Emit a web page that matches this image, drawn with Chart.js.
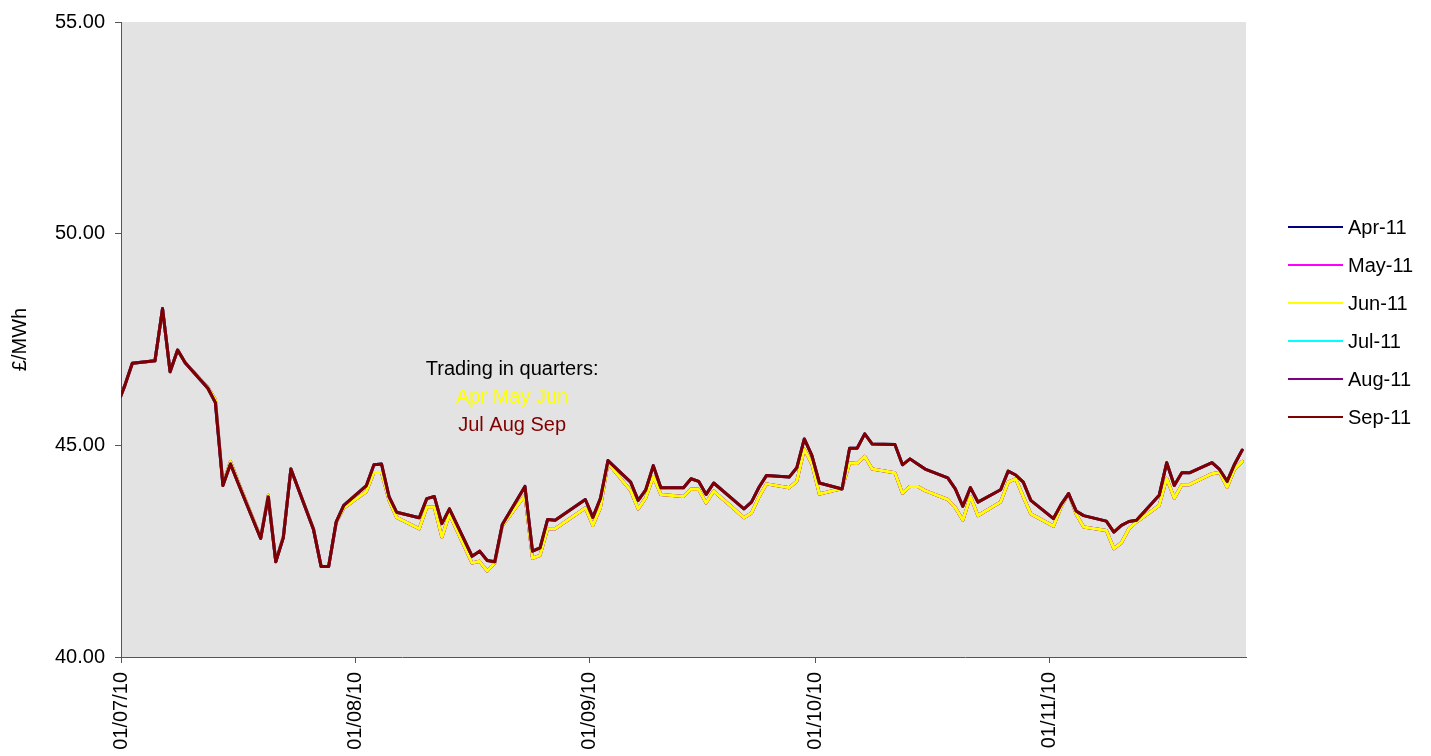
<!DOCTYPE html>
<html>
<head>
<meta charset="utf-8">
<script src="https://cdn.jsdelivr.net/npm/chart.js@4.4.1/dist/chart.umd.min.js"></script>
<style>
  html, body { margin: 0; padding: 0; background: #fff; }
  #wrap { width: 1431px; height: 756px; }
</style>
</head>
<body>
<div id="wrap"><canvas id="priceChart"></canvas></div>
<script>
// trading days (dd/mm/yy)
const tradeDates = [
  '30/06/10','01/07/10','02/07/10','05/07/10','06/07/10','07/07/10','08/07/10','09/07/10',
  '12/07/10','13/07/10','14/07/10','15/07/10','16/07/10','19/07/10','20/07/10','21/07/10',
  '22/07/10','23/07/10','26/07/10','27/07/10','28/07/10','29/07/10','30/07/10',
  '02/08/10','03/08/10','04/08/10','05/08/10','06/08/10','09/08/10','10/08/10','11/08/10',
  '12/08/10','13/08/10','16/08/10','17/08/10','18/08/10','19/08/10','20/08/10','23/08/10',
  '24/08/10','25/08/10','26/08/10','27/08/10','31/08/10',
  '01/09/10','02/09/10','03/09/10','06/09/10','07/09/10','08/09/10','09/09/10','10/09/10',
  '13/09/10','14/09/10','15/09/10','16/09/10','17/09/10','20/09/10','21/09/10','22/09/10',
  '23/09/10','24/09/10','27/09/10','28/09/10','29/09/10','30/09/10',
  '01/10/10','04/10/10','05/10/10','06/10/10','07/10/10','08/10/10','11/10/10','12/10/10',
  '13/10/10','14/10/10','15/10/10','18/10/10','19/10/10','20/10/10','21/10/10','22/10/10',
  '25/10/10','26/10/10','27/10/10','28/10/10','29/10/10',
  '01/11/10','02/11/10','03/11/10','04/11/10','05/11/10','08/11/10','09/11/10','10/11/10',
  '11/11/10','12/11/10','15/11/10','16/11/10','17/11/10','18/11/10','19/11/10','22/11/10',
  '23/11/10','24/11/10','25/11/10','26/11/10'
];

// Apr-11, May-11, Jun-11 contracts (they trade as one quarter)
const aprJun = [
  45.95,46.41,46.94,47.00,48.23,46.74,47.25,46.95,
  46.37,46.08,44.08,44.62,44.15,42.82,43.82,42.26,
  42.84,44.44,43.02,42.14,42.14,43.17,43.52,
  43.91,44.36,44.36,43.70,43.30,43.03,43.54,43.54,
  42.83,43.37,42.22,42.26,42.03,42.22,43.10,43.82,
  42.33,42.40,43.03,43.03,43.52,
  43.11,43.53,44.58,43.93,43.50,43.76,44.26,43.84,
  43.79,43.97,43.96,43.64,43.92,43.45,43.29,43.40,
  43.78,44.09,44.00,44.15,44.91,44.56,
  43.85,43.98,44.58,44.57,44.74,44.44,44.35,43.87,
  44.03,44.03,43.93,43.72,43.53,43.23,43.79,43.34,
  43.66,44.13,44.21,43.79,43.38,
  43.09,43.54,43.86,43.38,43.07,42.99,42.56,42.70,
  43.03,43.19,43.58,44.22,43.75,44.07,44.07,44.33,
  44.36,44.01,44.44,44.62
];

// Jul-11, Aug-11, Sep-11 contracts
const julSep = [
  45.95,46.41,46.94,47.00,48.23,46.74,47.25,46.95,
  46.35,46.01,44.05,44.56,44.11,42.80,43.78,42.25,
  42.82,44.44,43.01,42.14,42.14,43.19,43.58,
  44.05,44.54,44.56,43.79,43.42,43.29,43.74,43.79,
  43.15,43.50,42.38,42.50,42.28,42.25,43.13,44.03,
  42.50,42.58,43.25,43.23,43.72,
  43.30,43.75,44.64,44.13,43.70,43.95,44.52,44.00,
  44.00,44.21,44.15,43.84,44.11,43.65,43.50,43.66,
  44.01,44.29,44.25,44.47,45.15,44.76,
  44.11,43.97,44.93,44.93,45.27,45.03,45.02,44.54,
  44.68,44.56,44.44,44.23,43.97,43.56,44.00,43.66,
  43.95,44.39,44.30,44.13,43.70,
  43.27,43.60,43.86,43.45,43.34,43.21,42.95,43.11,
  43.20,43.23,43.82,44.59,44.05,44.35,44.35,44.59,
  44.43,44.15,44.56,44.89
];

const monthTicks = ['01/07/10', '01/08/10', '01/09/10', '01/10/10', '01/11/10'];
const axisEnd = '27/11/10';
const seriesNames = ['Apr-11', 'May-11', 'Jun-11', 'Jul-11', 'Aug-11', 'Sep-11'];
const seriesColours = ['#000080', '#FF00FF', '#FFFF00', '#00FFFF', '#800080', '#800000'];
const seriesValues = [aprJun, aprJun, aprJun, julSep, julSep, julSep];

const FONT = "'Liberation Sans', Arial, sans-serif";

// days since the first tick
function dayOf(s) {
  const [d, m, y] = s.split('/').map(Number);
  return (Date.UTC(2000 + y, m - 1, d) - Date.UTC(2010, 6, 1)) / 86400000;
}
const tickDays = monthTicks.map(dayOf);

const datasets = seriesNames.map((name, i) => ({
  label: name,
  // excel puts each day's point in the middle of the day
  data: tradeDates.map((t, j) => ({ x: dayOf(t) + 0.5, y: seriesValues[i][j] })),
  borderColor: seriesColours[i],
  backgroundColor: seriesColours[i],
  borderWidth: 3,
  borderJoinStyle: 'round',
  borderCapStyle: 'round',
  pointRadius: 0,
  tension: 0,
  order: seriesNames.length - 1 - i
}));

const plotBackground = {
  id: 'plotBackground',
  beforeDraw(chart) {
    const { ctx, chartArea: a } = chart;
    ctx.save();
    ctx.fillStyle = '#E3E3E3';
    ctx.fillRect(a.left, a.top, a.right - a.left, a.bottom - a.top);
    ctx.restore();
  }
};

const notes = {
  id: 'notes',
  afterDraw(chart) {
    const { ctx } = chart;
    const xs = chart.scales.x, ys = chart.scales.y;
    const cx = xs.getPixelForValue(51.8);
    const cy = ys.getPixelForValue(46.8);
    ctx.save();
    ctx.font = '20px ' + FONT;
    ctx.textAlign = 'center';
    ctx.textBaseline = 'middle';
    ctx.fillStyle = '#000000';
    ctx.fillText('Trading in quarters:', cx, cy);
    ctx.fillStyle = '#FFFF00';
    ctx.fillText('Apr May Jun', cx, cy + 28);
    ctx.fillStyle = '#800000';
    ctx.fillText('Jul Aug Sep', cx, cy + 56);

    // legend
    ctx.textAlign = 'left';
    seriesNames.forEach((name, i) => {
      const y = 227 + i * 38;
      ctx.strokeStyle = seriesColours[i];
      ctx.lineWidth = 2;
      ctx.beginPath();
      ctx.moveTo(1288, y);
      ctx.lineTo(1343, y);
      ctx.stroke();
      ctx.fillStyle = '#000000';
      ctx.fillText(name, 1348, y + 1);
    });
    ctx.restore();
  }
};

new Chart(document.getElementById('priceChart'), {
  type: 'line',
  data: { datasets: datasets },
  options: {
    responsive: true,
    maintainAspectRatio: false,
    animation: false,
    layout: { padding: { top: 20, right: 185, left: 0, bottom: 0 } },
    plugins: {
      legend: { display: false },
      tooltip: { enabled: false }
    },
    scales: {
      x: {
        type: 'linear',
        min: 0,
        max: dayOf(axisEnd),
        afterBuildTicks: (scale) => { scale.ticks = tickDays.map(v => ({ value: v })); },
        afterFit: (scale) => { scale.height = 99; },
        ticks: {
          autoSkip: false,
          minRotation: 90,
          maxRotation: 90,
          padding: 9,
          color: '#000000',
          font: { family: FONT, size: 20 },
          callback: (v, i) => monthTicks[i]
        },
        grid: { drawOnChartArea: false, tickLength: 6, color: '#555555' },
        border: { display: true, color: '#555555', width: 1 }
      },
      y: {
        min: 40,
        max: 55,
        afterFit: (scale) => { scale.width = 121; },
        ticks: {
          stepSize: 5,
          padding: 10,
          color: '#000000',
          font: { family: FONT, size: 20 },
          callback: (v) => v.toFixed(2)
        },
        title: {
          display: true,
          text: '£/MWh',
          color: '#000000',
          font: { family: FONT, size: 20 },
          padding: { top: 8, bottom: 0 }
        },
        grid: { drawOnChartArea: false, tickLength: 6, color: '#555555' },
        border: { display: true, color: '#555555', width: 1 }
      }
    }
  },
  plugins: [plotBackground, notes]
});
</script>
</body>
</html>
